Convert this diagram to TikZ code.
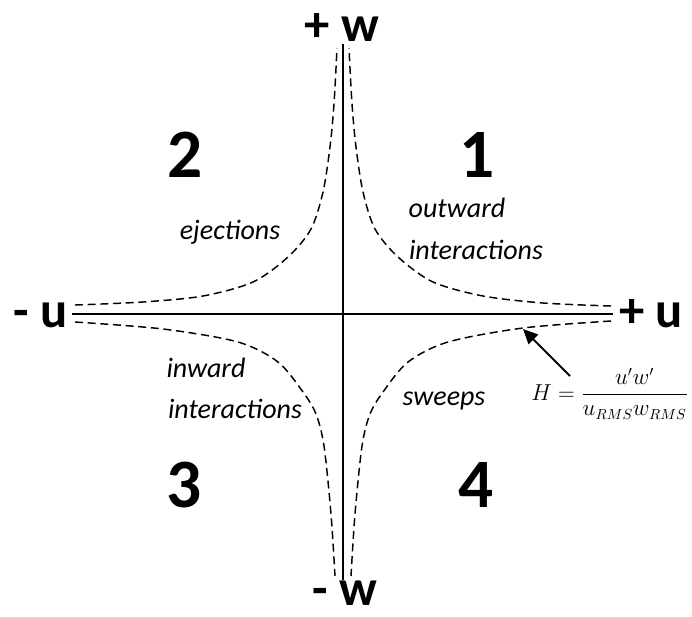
\documentclass[tikz,border=0pt]{standalone}
\usepackage{fontspec}
\setmainfont{Carlito}
\usetikzlibrary{arrows.meta}
\tikzset{
  axis/.style={line width=1.5pt, line cap=butt},
  hyp/.style={line width=1.1pt, dash pattern=on 6pt off 3.5pt},
  axlab/.style={font=\fontsize{38}{40}\selectfont\bfseries, inner sep=0pt, anchor=base},
  qnum/.style={font=\fontsize{52}{56}\selectfont\bfseries, inner sep=0pt, anchor=base},
  qlab/.style={font=\fontsize{21}{24}\selectfont\itshape, inner sep=0pt, anchor=base},
  formula/.style={font=\fontsize{16}{20}\selectfont, inner sep=0pt, anchor=base west},
  arr/.style={line width=1.5pt, -{Triangle[length=11pt,width=10pt]}}
}
\begin{document}
\begin{tikzpicture}[x=0.75pt,y=-0.75pt]
\useasboundingbox (0,0) rectangle (692,617);
% axes
\coordinate (L) at (72,314);
\coordinate (R) at (613,314);
\coordinate (T) at (343,44);
\coordinate (B) at (343,580);
\draw[axis] (L) -- (R);
\draw[axis] (T) -- (B);
% hyperbola-like curves
\draw[hyp] plot[smooth] coordinates {(611,306) (543,303) (483,296) (433,282) (398,257) (375,229) (363,192) (356,147) (352,104) (349,48)};
\draw[hyp] plot[smooth] coordinates {(75,305) (143,302) (203,296) (253,282) (288,257) (311,229) (323,192) (330,147) (334,104) (337,48)};
\draw[hyp] plot[smooth] coordinates {(611,321) (523,328) (448,342) (408,362) (383,392) (370,414) (362,446) (355,514) (351,576)};
\draw[hyp] plot[smooth] coordinates {(75,322) (163,329) (238,342) (278,362) (303,392) (316,414) (324,446) (331,514) (335,576)};
% axis labels
\node[axlab] (pw) at (342,42) {+ w};
\node[axlab] (mw) at (345,605) {- w};
\node[axlab] (mu) at (41,327) {- u};
\node[axlab] (pu) at (651,327) {+ u};
% quadrant numbers
\node[qnum] (q2) at (185,177) {2};
\node[qnum] (q1) at (477,177) {1};
\node[qnum] (q3) at (184,507) {3};
\node[qnum] (q4) at (476,507) {4};
% quadrant labels
\node[qlab] (ej) at (230,239) {ejections};
\node[qlab] (ow) at (457,217) {outward};
\node[qlab] (oi) at (476,259) {interactions};
\node[qlab] (iw) at (206,377) {inward};
\node[qlab] (ii) at (235,418) {interactions};
\node[qlab] (sw) at (444,405) {sweeps};
% formula and arrow
\node[formula] (hf) at (531,400) {$\displaystyle H=\frac{u'w'}{u_{RMS}w_{RMS}}$};
\coordinate (tail) at (570,376);
\coordinate (tip) at (523,329);
\draw[arr] (tail) -- (tip);
\end{tikzpicture}
\end{document}
